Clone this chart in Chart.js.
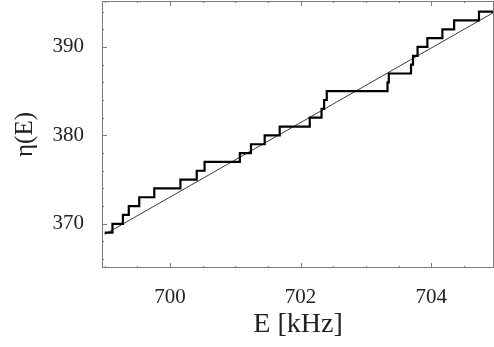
<!DOCTYPE html>
<html>
<head>
<meta charset="utf-8">
<script src="https://cdn.jsdelivr.net/npm/chart.js@4.4.0/dist/chart.umd.min.js"></script>
<style>
  body { margin: 0; background: #fff; }
  canvas { display: block; }
</style>
</head>
<body>
<canvas id="stairChart" width="494" height="347"></canvas>
<script>
// staircase: level stepN[i] starts at energy stepE[i]
const stepE = [699.0, 699.12, 699.28, 699.37, 699.53, 699.76, 700.16, 700.41, 700.53, 701.07,
               701.24, 701.45, 701.68, 702.14, 702.32, 702.36, 702.40, 703.33, 703.35, 703.69,
               703.72, 703.79, 703.94, 704.17, 704.35, 704.73, 705.0];
const stepN = [369, 370, 371, 372, 373, 374, 375, 376, 377, 378,
               379, 380, 381, 382, 383, 384, 385, 386, 387, 388,
               389, 390, 391, 392, 393, 394, 394];

// smooth (mean) counting function
const lineE = [699.0, 705.0];
const lineN = [368.8, 394.1];

const xTicks = [700, 702, 704];
const yTicks = [370, 380, 390];

const serif = 'Liberation Serif';

// frame with inward ticks, like the original plot box
const framePlugin = {
    id: 'frame',
    afterDatasetsDraw(chart) {
        const ctx = chart.ctx;
        const a = chart.chartArea;
        const x = chart.scales.x;
        const y = chart.scales.y;
        ctx.save();
        ctx.strokeStyle = '#7a7a7a';
        ctx.lineWidth = 1;
        ctx.strokeRect(a.left + 0.5, a.top + 0.5, a.right - a.left - 1, a.bottom - a.top - 1);
        ctx.beginPath();
        for (let v = 699; v <= 705; v += 0.5) {
            const px = Math.round(x.getPixelForValue(v)) + 0.5;
            const len = xTicks.includes(v) ? 5 : 2;
            ctx.moveTo(px, a.bottom); ctx.lineTo(px, a.bottom - len);
            ctx.moveTo(px, a.top); ctx.lineTo(px, a.top + len);
        }
        for (let v = 366; v <= 394; v += 2) {
            const py = Math.round(y.getPixelForValue(v)) + 0.5;
            const len = yTicks.includes(v) ? 5 : 2;
            ctx.moveTo(a.left, py); ctx.lineTo(a.left + len, py);
        }
        ctx.stroke();
        ctx.restore();
    }
};

const ctx = document.getElementById('stairChart').getContext('2d');
const stairChart = new Chart(ctx, {
    type: 'line',
    data: {
        datasets: [{
            data: stepE.map((e, i) => ({ x: e, y: stepN[i] })),
            stepped: 'before',
            borderColor: '#000',
            borderWidth: 2.2,
            pointRadius: 0,
            fill: false
        }, {
            data: lineE.map((e, i) => ({ x: e, y: lineN[i] })),
            borderColor: '#3a3a3a',
            borderWidth: 1,
            pointRadius: 0,
            fill: false
        }]
    },
    options: {
        responsive: false,
        animation: false,
        layout: { padding: { top: 1, right: 0, left: 0, bottom: 0 } },
        plugins: {
            legend: { display: false },
            tooltip: { enabled: false }
        },
        scales: {
            x: {
                type: 'linear',
                min: 698.96,
                max: 704.96,
                afterBuildTicks: s => { s.ticks = xTicks.map(v => ({ value: v })); },
                afterFit: s => { s.height = 79; s.paddingLeft = 0; s.paddingRight = 0; },
                grid: { display: false },
                border: { display: false },
                ticks: {
                    padding: 9,
                    color: '#222',
                    font: { family: serif, size: 21 }
                },
                title: {
                    display: true,
                    text: 'E [kHz]',
                    color: '#222',
                    padding: { top: 0, bottom: 6 },
                    font: { family: serif, size: 28 }
                }
            },
            y: {
                min: 365,
                max: 395.2,
                afterBuildTicks: s => { s.ticks = yTicks.map(v => ({ value: v })); },
                afterFit: s => { s.width = 102; s.paddingTop = 0; s.paddingBottom = 0; },
                grid: { display: false },
                border: { display: false },
                ticks: {
                    padding: 10,
                    color: '#222',
                    font: { family: serif, size: 21 }
                },
                title: {
                    display: true,
                    text: 'η(E)',
                    color: '#222',
                    padding: { top: 10, bottom: 0 },
                    font: { family: serif, size: 25 }
                }
            }
        }
    },
    plugins: [framePlugin]
});
</script>
</body>
</html>
